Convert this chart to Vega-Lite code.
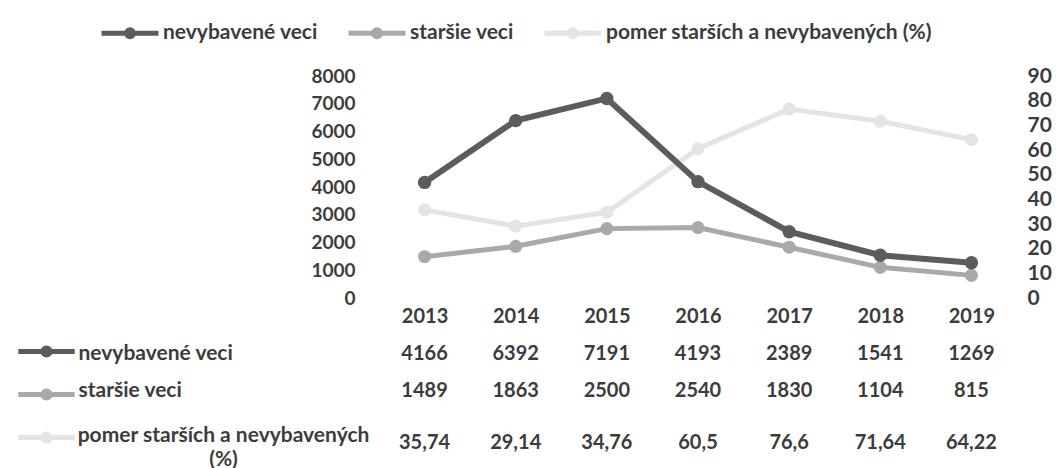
{
  "$schema": "https://vega.github.io/schema/vega-lite/v6.json",
  "background": "white",
  "padding": {"left": 35, "top": 2, "right": 5, "bottom": 0},
  "config": {
    "view": {"stroke": null},
    "font": "Lato",
    "locale": {"number": {"decimal": ",", "thousands": "", "grouping": [3], "currency": ["", " €"]}},
    "axis": {"labelFont": "Lato", "labelFontWeight": "bold", "labelColor": "#3c3c3c", "ticks": false, "domain": false, "grid": false, "title": null}
  },
  "datasets": {
    "d": [
      {"year": "2013", "series": "nevybavené veci", "value": 4166},
      {"year": "2014", "series": "nevybavené veci", "value": 6392},
      {"year": "2015", "series": "nevybavené veci", "value": 7191},
      {"year": "2016", "series": "nevybavené veci", "value": 4193},
      {"year": "2017", "series": "nevybavené veci", "value": 2389},
      {"year": "2018", "series": "nevybavené veci", "value": 1541},
      {"year": "2019", "series": "nevybavené veci", "value": 1269},
      {"year": "2013", "series": "staršie veci", "value": 1489},
      {"year": "2014", "series": "staršie veci", "value": 1863},
      {"year": "2015", "series": "staršie veci", "value": 2500},
      {"year": "2016", "series": "staršie veci", "value": 2540},
      {"year": "2017", "series": "staršie veci", "value": 1830},
      {"year": "2018", "series": "staršie veci", "value": 1104},
      {"year": "2019", "series": "staršie veci", "value": 815},
      {"year": "2013", "series": "pomer starších a nevybavených (%)", "value": 35.74},
      {"year": "2014", "series": "pomer starších a nevybavených (%)", "value": 29.14},
      {"year": "2015", "series": "pomer starších a nevybavených (%)", "value": 34.76},
      {"year": "2016", "series": "pomer starších a nevybavených (%)", "value": 60.5},
      {"year": "2017", "series": "pomer starších a nevybavených (%)", "value": 76.6},
      {"year": "2018", "series": "pomer starších a nevybavených (%)", "value": 71.64},
      {"year": "2019", "series": "pomer starších a nevybavených (%)", "value": 64.22}
    ]
  },
  "spacing": 9,
  "resolve": {"legend": {"color": "independent"}},
  "vconcat": [
    {
      "width": 638,
      "height": 222,
      "data": {"name": "d"},
      "layer": [
        {
          "transform": [{"filter": "datum.series == 'pomer starších a nevybavených (%)'"}],
          "mark": {"type": "line", "strokeWidth": 5, "point": {"filled": true, "size": 170}},
          "encoding": {
            "x": {"field": "year", "type": "ordinal", "scale": {"type": "point", "padding": 0.5}, "axis": {"orient": "bottom", "labelAngle": 0, "labelFontSize": 20, "labelPadding": 8}},
            "y": {"field": "value", "type": "quantitative", "scale": {"domain": [0, 90], "nice": false}, "axis": {"orient": "right", "values": [0, 10, 20, 30, 40, 50, 60, 70, 80, 90], "labelFontSize": 21, "labelPadding": 10, "labelAlign": "left"}},
            "color": {
              "field": "series", "type": "nominal",
              "scale": {"domain": ["nevybavené veci", "staršie veci", "pomer starších a nevybavených (%)"], "range": ["#5c5c5c", "#a9a9a9", "#e4e4e4"]},
              "legend": {"orient": "none", "legendX": -280, "legendY": -74, "direction": "horizontal", "title": null, "symbolType": "M-1,0H1M-0.12,0A0.12,0.12 0 1,0 0.12,0A0.12,0.12 0 1,0 -0.12,0", "symbolSize": 3249, "symbolStrokeWidth": 5, "symbolOpacity": 1, "labelFontSize": 21, "labelFont": "Lato", "labelFontWeight": "bold", "labelColor": "#3c3c3c", "labelLimit": 0, "columnPadding": 20, "labelOffset": 2}
            }
          }
        },
        {
          "layer": [
            {
              "transform": [{"filter": "datum.series == 'staršie veci'"}],
              "mark": {"type": "line", "strokeWidth": 5, "point": {"filled": true, "size": 170}},
              "encoding": {
                "x": {"field": "year", "type": "ordinal", "scale": {"type": "point", "padding": 0.5}, "axis": {"orient": "bottom", "labelAngle": 0, "labelFontSize": 20, "labelPadding": 8}},
                "y": {"field": "value", "type": "quantitative", "scale": {"domain": [0, 8000], "nice": false}, "axis": {"orient": "left", "values": [0, 1000, 2000, 3000, 4000, 5000, 6000, 7000, 8000], "labelFontSize": 19, "labelPadding": 24}},
                "color": {"field": "series", "type": "nominal"}
              }
            },
            {
              "transform": [{"filter": "datum.series == 'nevybavené veci'"}],
              "mark": {"type": "line", "strokeWidth": 6, "point": {"filled": true, "size": 180}},
              "encoding": {
                "x": {"field": "year", "type": "ordinal", "scale": {"type": "point", "padding": 0.5}, "axis": {"orient": "bottom", "labelAngle": 0, "labelFontSize": 20, "labelPadding": 8}},
                "y": {"field": "value", "type": "quantitative", "scale": {"domain": [0, 8000], "nice": false}, "axis": {"orient": "left", "values": [0, 1000, 2000, 3000, 4000, 5000, 6000, 7000, 8000], "labelFontSize": 19, "labelPadding": 24}},
                "color": {"field": "series", "type": "nominal"}
              }
            }
          ]
        }
      ],
      "resolve": {"scale": {"y": "independent"}}
    },
    {
      "width": 638,
      "height": 111,
      "data": {"name": "d"},
      "encoding": {
        "x": {"field": "year", "type": "ordinal", "scale": {"type": "point", "padding": 0.5}, "axis": null},
        "y": {
          "field": "series", "type": "nominal",
          "scale": {"type": "point", "padding": 0.5, "domain": ["nevybavené veci", "staršie veci", "pomer starších a nevybavených (%)"]},
          "axis": {
            "orient": "left",
            "labelFontSize": 21,
            "labelLimit": 0,
            "labelLineHeight": 24,
            "labelBaseline": "middle",
            "labelExpr": "datum.value == 'pomer starších a nevybavených (%)' ? ['pomer starších a nevybavených', '(%)'] : datum.value",
            "labelAlign": {"condition": {"test": "datum.value == 'pomer starších a nevybavených (%)'", "value": "center"}, "value": "left"},
            "labelPadding": {"condition": {"test": "datum.value == 'pomer starších a nevybavených (%)'", "value": 156}, "value": 301},
            "labelOffset": {"condition": {"test": "datum.value == 'pomer starších a nevybavených (%)'", "value": 8}, "value": 0}
          }
        }
      },
      "layer": [
        {
          "transform": [{"filter": "datum.series != 'pomer starších a nevybavených (%)'"}],
          "mark": {"type": "text", "font": "Lato", "fontSize": 20, "fontWeight": "bold", "color": "#3c3c3c"},
          "encoding": {"text": {"field": "value", "type": "quantitative", "format": "~g"}}
        },
        {
          "transform": [{"filter": "datum.series == 'pomer starších a nevybavených (%)'"}],
          "mark": {"type": "text", "font": "Lato", "fontSize": 20, "fontWeight": "bold", "color": "#3c3c3c", "dy": 15},
          "encoding": {"text": {"field": "value", "type": "quantitative", "format": "~g"}}
        },
        {
          "transform": [{"filter": "datum.year == '2013'"}],
          "mark": {"type": "point", "opacity": 0},
          "encoding": {
            "color": {
              "field": "series", "type": "nominal",
              "legend": {"orient": "none", "legendX": -344, "legendY": 2, "direction": "vertical", "title": null, "labelExpr": "''", "symbolType": "M-2.6,0H2.1M-0.55,0A0.3,0.3 0 1,0 0.05,0A0.3,0.3 0 1,0 -0.55,0", "symbolSize": 576, "symbolStrokeWidth": 5, "symbolOpacity": 1, "rowPadding": 14}
            }
          }
        }
      ]
    }
  ]
}
